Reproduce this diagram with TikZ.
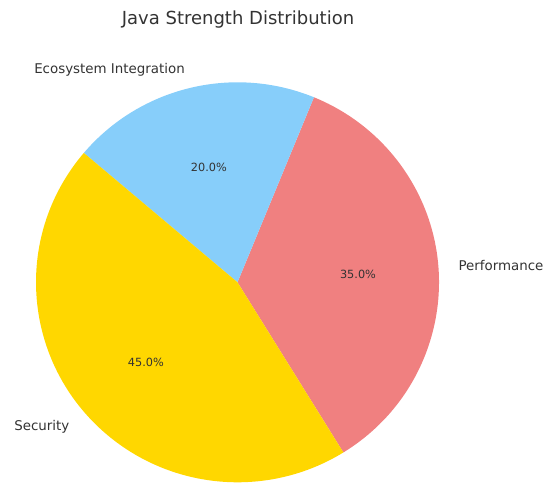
\documentclass[tikz,border=0pt]{standalone}
\usepackage{fontspec}
\setmainfont{DejaVu Sans}
\usetikzlibrary{calc}
\definecolor{gold}{HTML}{FFD700}
\definecolor{lcoral}{HTML}{F08080}
\definecolor{lsky}{HTML}{87CEFA}
\definecolor{txt}{HTML}{333333}
\begin{document}
\begin{tikzpicture}[x=1pt,y=1pt,
  lbl/.style={inner sep=0pt,text=txt,yshift=-1.5pt,font=\fontsize{13.4}{16}\selectfont},
  pct/.style={inner sep=0pt,text=txt,yshift=-1.5pt,font=\fontsize{11.3}{13}\selectfont},
  ttl/.style={inner sep=0pt,text=txt,font=\fontsize{18}{22}\selectfont}]
\useasboundingbox (0,0) rectangle (544,483);
\coordinate (c) at (237.5,200.7);
\def\RX{201.5}
\def\RY{200}
\fill[lcoral] (c) -- ++(-58.3:\RX pt and \RY pt) arc[start angle=-58.3,end angle=67.7,x radius=\RX,y radius=\RY] -- cycle;
\fill[lsky] (c) -- ++(67.7:\RX pt and \RY pt) arc[start angle=67.7,end angle=139.7,x radius=\RX,y radius=\RY] -- cycle;
\fill[gold] (c) -- ++(139.7:\RX pt and \RY pt) arc[start angle=139.7,end angle=301.7,x radius=\RX,y radius=\RY] -- cycle;
\node[ttl] (title) at (238,463) {Java Strength Distribution};
\node[lbl,anchor=west] (perf) at ($(c)+(4.7:221.6pt and 220pt)$) {Performance};
\node[lbl,anchor=east] (eco) at ($(c)+(103.7:221.6pt and 220pt)$) {Ecosystem Integration};
\node[lbl,anchor=east] (sec) at ($(c)+(220.7:221.6pt and 220pt)$) {Security};
\node[pct] (pperf) at ($(c)+(4.7:120.9pt and 120pt)$) {35.0\%};
\node[pct] (peco) at ($(c)+(103.7:120.9pt and 120pt)$) {20.0\%};
\node[pct] (psec) at ($(c)+(220.7:120.9pt and 120pt)$) {45.0\%};
\end{tikzpicture}
\end{document}
